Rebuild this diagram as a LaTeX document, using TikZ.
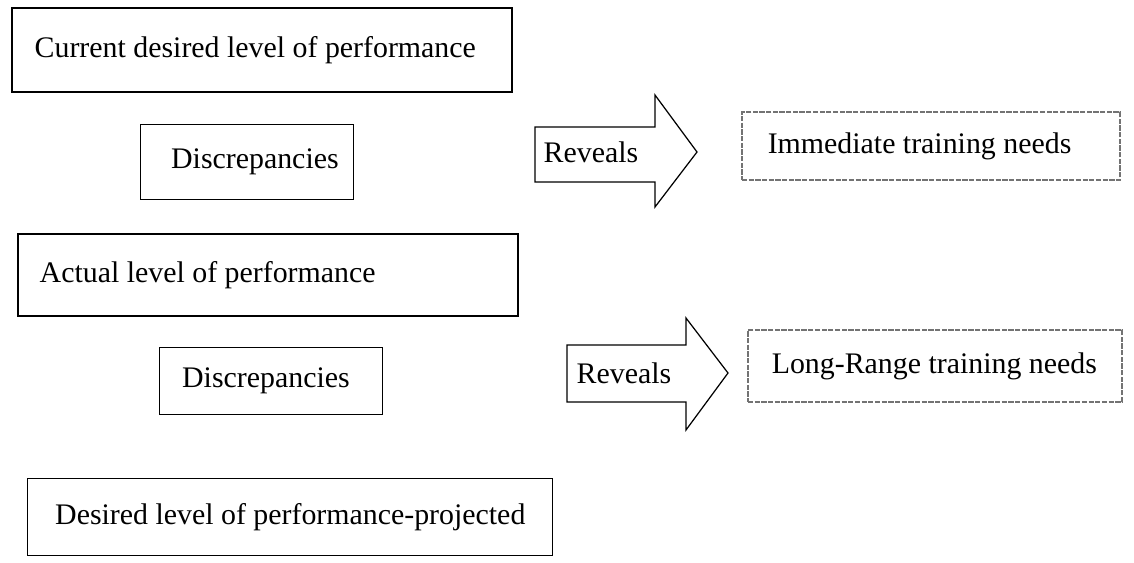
\documentclass[tikz,border=0pt]{standalone}
\usepackage{fontspec}
\setmainfont{Liberation Serif}
\usetikzlibrary{positioning,calc}
\tikzset{
  lvl/.style={draw=black,line width=0.8pt,fill=white,inner sep=0pt},
  need/.style={draw=black!55,line width=0.7pt,dash pattern=on 3pt off 0.8pt,inner sep=0pt},
  txt/.style={inner sep=0pt,font=\fontsize{17}{20}\selectfont},
  revarrow/.style={draw=black,line width=0.7pt,fill=white,line join=miter},
}

\begin{document}
\begin{tikzpicture}[x=0.02cm,y=-0.02cm]
\useasboundingbox (0,0) rectangle (1134,562);
% left column
\node[lvl,minimum width=10cm,minimum height=1.68cm] (cur) at (262,50) {};
\node[txt,right=0.46cm of cur.west] (curT) {Current desired level of performance};
\node[lvl,minimum width=4.26cm,minimum height=1.5cm] (disA) at (247,162) {};
\node[txt,right=0.62cm of disA.west] (disAT) {Discrepancies};
\node[lvl,minimum width=10cm,minimum height=1.64cm] (act) at (268,275) {};
\node[txt,right=0.44cm of act.west] (actT) {Actual level of performance};
\node[lvl,minimum width=4.46cm,minimum height=1.34cm] (disB) at (271,381) {};
\node[txt,right=0.46cm of disB.west] (disBT) {Discrepancies};
\node[lvl,minimum width=10.5cm,minimum height=1.54cm] (proj) at (290,517) {};
\node[txt,right=0.56cm of proj.west] (projT) {Desired level of performance-projected};
% arrows
\draw[revarrow] (535,127) -- (655,127) -- (655,95) -- (697,152) -- (655,207) -- (655,182) -- (535,182) -- cycle;
\node[txt] (revA) at (591,152) {Reveals};
\draw[revarrow] (567,345) -- (686,345) -- (686,318) -- (728,373) -- (686,430) -- (686,402) -- (567,402) -- cycle;
\node[txt] (revB) at (624,373) {Reveals};
% right column
\node[need,minimum width=7.56cm,minimum height=1.36cm] (imm) at (931,146) {};
\node[txt,right=0.52cm of imm.west] (immT) {Immediate training needs};
\node[need,minimum width=7.48cm,minimum height=1.44cm] (lng) at (935,366) {};
\node[txt,right=0.48cm of lng.west] (lngT) {Long-Range training needs};
\end{tikzpicture}
\end{document}
